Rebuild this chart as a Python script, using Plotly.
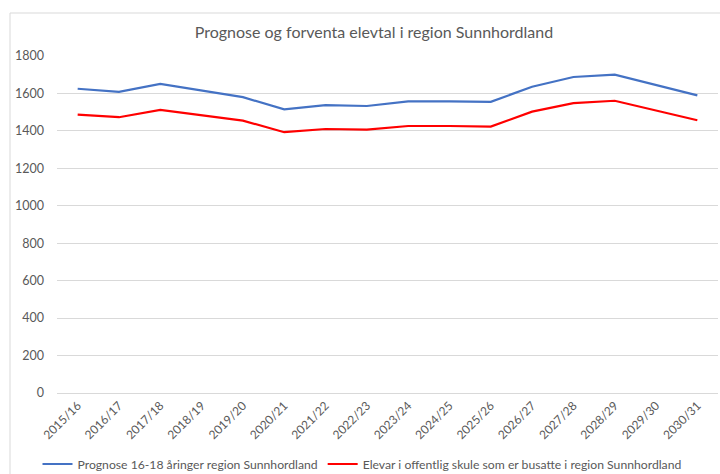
import plotly.graph_objects as go

categories = ["2015/16", "2016/17", "2017/18", "2018/19", "2019/20", "2020/21", "2021/22", "2022/23",
              "2023/24", "2024/25", "2025/26", "2026/27", "2027/28", "2028/29", "2029/30", "2030/31"]
prognose = [1625, 1608, 1651, 1615, 1580, 1515, 1538, 1533, 1558, 1558, 1555, 1636, 1688, 1700, 1645, 1590]
elevar = [1487, 1473, 1512, 1483, 1455, 1393, 1410, 1407, 1426, 1426, 1423, 1503, 1548, 1561, 1510, 1457]
series_names = ["Prognose 16-18 åringer region Sunnhordland",
                "Elevar i offentlig skule som er busatte i region Sunnhordland"]
title_text = "Prognose og forventa elevtal i region Sunnhordland"

FONT = "Lato, 'Open Sans', sans-serif"
GRAY = "#595959"

fig = go.Figure()
fig.add_trace(go.Scatter(x=categories, y=prognose, mode="lines", name=series_names[0],
                         line=dict(color="#4472C4", width=2.2)))
fig.add_trace(go.Scatter(x=categories, y=elevar, mode="lines", name=series_names[1],
                         line=dict(color="#FF0000", width=2.2)))

W, H = 720, 474
ml, mr, mt, mb = 57, 2, 56, 81
PW, PH = W - ml - mr, H - mt - mb

fig.update_layout(
    width=W, height=H,
    margin=dict(l=ml, r=mr, t=mt, b=mb, autoexpand=False),
    paper_bgcolor="white", plot_bgcolor="white",
    font=dict(family=FONT, color=GRAY, size=12),
    title=dict(text=title_text, xref="container", x=374 / W, xanchor="center",
               yref="container", y=1 - 32 / H, yanchor="middle",
               font=dict(size=16, color=GRAY, family=FONT)),
    xaxis=dict(type="category", range=[-0.5, len(categories) - 0.5], tickangle=-45,
               showgrid=False, showline=True, linecolor="#d9d9d9", linewidth=1,
               ticks="", tickfont=dict(size=12, color=GRAY), zeroline=False,
               automargin=False),
    yaxis=dict(range=[0, 1800], dtick=200, showgrid=True, gridcolor="#d9d9d9", gridwidth=1,
               zeroline=False, showline=False, ticks="", ticklabelstandoff=12,
               tickfont=dict(size=12.5, color=GRAY), automargin=False),
    legend=dict(orientation="h", xref="container", x=362 / W, xanchor="center",
                yref="container", y=1 - 464 / H, yanchor="middle",
                font=dict(size=12.2, color=GRAY, family=FONT), itemwidth=30,
                traceorder="normal"),
    showlegend=True,
)

# chart border (light gray), partially visible as in reference
fig.add_shape(type="rect", xref="paper", yref="paper",
              x0=(10 - ml) / PW, x1=(W + 5 - ml) / PW,
              y0=-(H + 5 - (H - mb)) / PH, y1=1 + (mt - 13) / PH,
              line=dict(color="#d9d9d9", width=1), layer="below")

fig.write_html("out.html", config={"displayModeBar": False},
               post_script="document.body.style.margin='0';document.body.style.overflow='hidden';")
